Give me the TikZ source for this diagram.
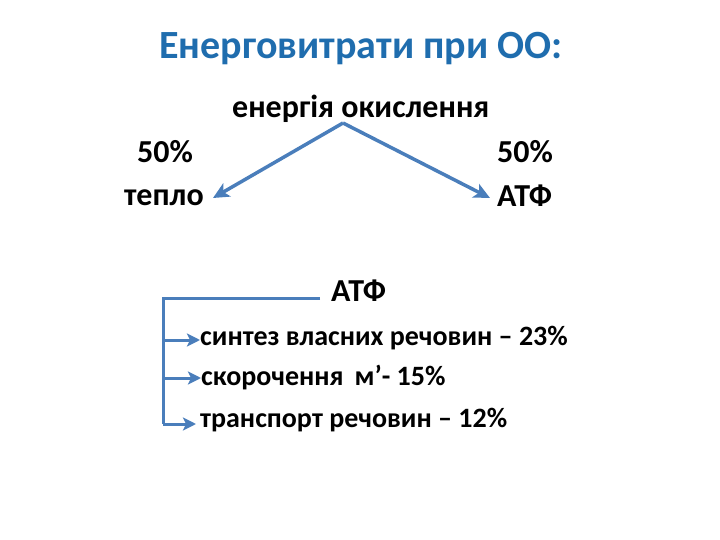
\documentclass[tikz,border=0pt]{standalone}
\usepackage{fontspec}
\setmainfont{Carlito}
\usetikzlibrary{arrows.meta}
\definecolor{titleblue}{HTML}{1F6DAE}
\definecolor{linkblue}{HTML}{4A7EBB}
\begin{document}
\begin{tikzpicture}[x=1pt,y=-1pt,
  title/.style={font=\fontsize{40}{44}\selectfont\bfseries, text=titleblue, inner sep=0pt},
  big/.style={font=\fontsize{32}{36}\selectfont\bfseries, inner sep=0pt, anchor=base west},
  body/.style={font=\fontsize{28}{32}\selectfont\bfseries, inner sep=0pt, anchor=base west},
  bigarrow/.style={draw=linkblue, line width=3.5pt, -{Stealth[length=16pt,width=15pt,inset=4pt]}},
  link/.style={draw=linkblue, line width=3pt},
  smallarrow/.style={draw=linkblue, line width=3pt, -{Stealth[length=13pt,width=13pt,inset=3pt]}}]
\useasboundingbox (0,0) rectangle (720,540);
\node[title, anchor=base] (t) at (361,59) {Енерговитрати при ОО:};
\node[big] (e) at (232,118) {енергія окислення};
\node[big] (p1) at (137,163) {50\%};
\node[big] (h) at (124,206) {тепло};
\node[big] (p2) at (497,163) {50\%};
\node[big] (a1) at (497,207) {АТФ};
\node[big] (a2) at (331,301) {АТФ};
\node[body] (s1) at (200,345) {синтез власних речовин – 23\%};
\node[body] (s2) at (201,385) {скорочення \,м’- 15\%};
\node[body] (s3) at (200,427) {транспорт речовин – 12\%};
\coordinate (apex) at (343,123);
\coordinate (lt) at (213,198);
\coordinate (rt) at (490,198);
\draw[bigarrow] (apex) -- (lt);
\draw[bigarrow] (apex) -- (rt);
\coordinate (bh) at (320,298);
\coordinate (bc) at (163,298);
\coordinate (b3) at (163,424);
\draw[link] (bh) -- (bc) -- (b3);
\draw[smallarrow] (b3) -- (196,424);
\draw[smallarrow] (163,340) -- (s1.base west |- 0,340);
\draw[smallarrow] (163,378) -- (s2.base west |- 0,378);
\end{tikzpicture}
\end{document}
